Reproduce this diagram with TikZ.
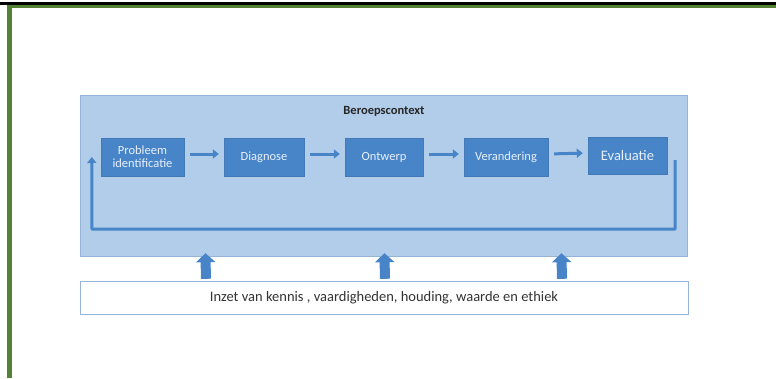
\documentclass[tikz,border=0pt]{standalone}
\usepackage{fontspec}
\setmainfont{Carlito}
\usetikzlibrary{arrows.meta}
\definecolor{ctxblue}{RGB}{177,205,233}
\definecolor{ctxedge}{RGB}{150,180,216}
\definecolor{boxblue}{RGB}{72,133,200}
\definecolor{boxtext}{RGB}{232,240,250}
\definecolor{framegreen}{RGB}{84,130,53}
\begin{document}
\begin{tikzpicture}[x=1pt,y=-1pt,
			stap/.style={draw=boxblue!85!black!60!boxblue,fill=boxblue,text=boxtext,minimum height=38pt,inner sep=1pt,align=center,font=\fontsize{12.5}{13}\selectfont},
			pijl/.style={->,>={Triangle[width=9pt,length=6pt]},line width=3pt,color=boxblue},
			omhoog/.style={->,>={Triangle[width=19pt,length=9pt]},line width=10pt,color=boxblue}]
			\useasboundingbox (0,0) rectangle (776,378);
			% kader
			\fill[black] (0,2) rectangle (776,4.5);
			\fill[framegreen] (7,4.5) rectangle (776,8);
			\fill[framegreen] (7,4.5) rectangle (12,378);
			\node[draw=ctxedge,fill=ctxblue,minimum width=607pt,minimum height=161pt,inner sep=0pt] (ctx) at (383.5,175.5){};
			\node[font=\bfseries\fontsize{12.5}{13}\selectfont,text=black!85] (titel) at (384,111){Beroepscontext};
			\node[stap,minimum width=83pt] (p1) at (142.5,157){Probleem\\identificatie};
			\node[stap,minimum width=80pt] (p2) at (264,157){Diagnose};
			\node[stap,minimum width=78pt] (p3) at (384,157){Ontwerp};
			\node[stap,minimum width=84pt] (p4) at (506,157){Verandering};
			\node[stap,minimum width=79pt,minimum height=37pt,font=\fontsize{14.5}{15}\selectfont] (p5) at (627.5,156){Evaluatie};
			\draw ([yshift=3pt]p1.east) edge [pijl, shorten <=6pt, shorten >=5pt] ([yshift=3pt]p2.west);
			\draw ([yshift=3pt]p2.east) edge [pijl, shorten <=6pt, shorten >=5pt] ([yshift=3pt]p3.west);
			\draw ([yshift=3pt]p3.east) edge [pijl, shorten <=6pt, shorten >=5pt] ([yshift=3pt]p4.west);
			\draw ([yshift=3pt]p4.east) edge [pijl, shorten <=6pt, shorten >=5pt] ([yshift=3pt]p5.west);
			% terugkoppeling
			\coordinate (tr) at (675,229);
			\coordinate (tl) at (92,229);
			\draw[pijl,line join=round] ([xshift=8pt,yshift=-4pt]p5.east) -- (tr) -- (tl) -- ([xshift=-9pt]p1.west);
			\node[draw=ctxedge,fill=white,minimum width=608pt,minimum height=33pt,font=\fontsize{14.5}{15}\selectfont,text=black!80] (inzet) at (384,297.5){Inzet van kennis , vaardigheden, houding, waarde en ethiek};
			\foreach \dx in {-178,1,178}
				\draw[omhoog, shorten <=2pt, shorten >=-3pt] ([xshift=\dx pt]inzet.north) -- ([xshift=\dx pt]ctx.south);
		\end{tikzpicture}
\end{document}
